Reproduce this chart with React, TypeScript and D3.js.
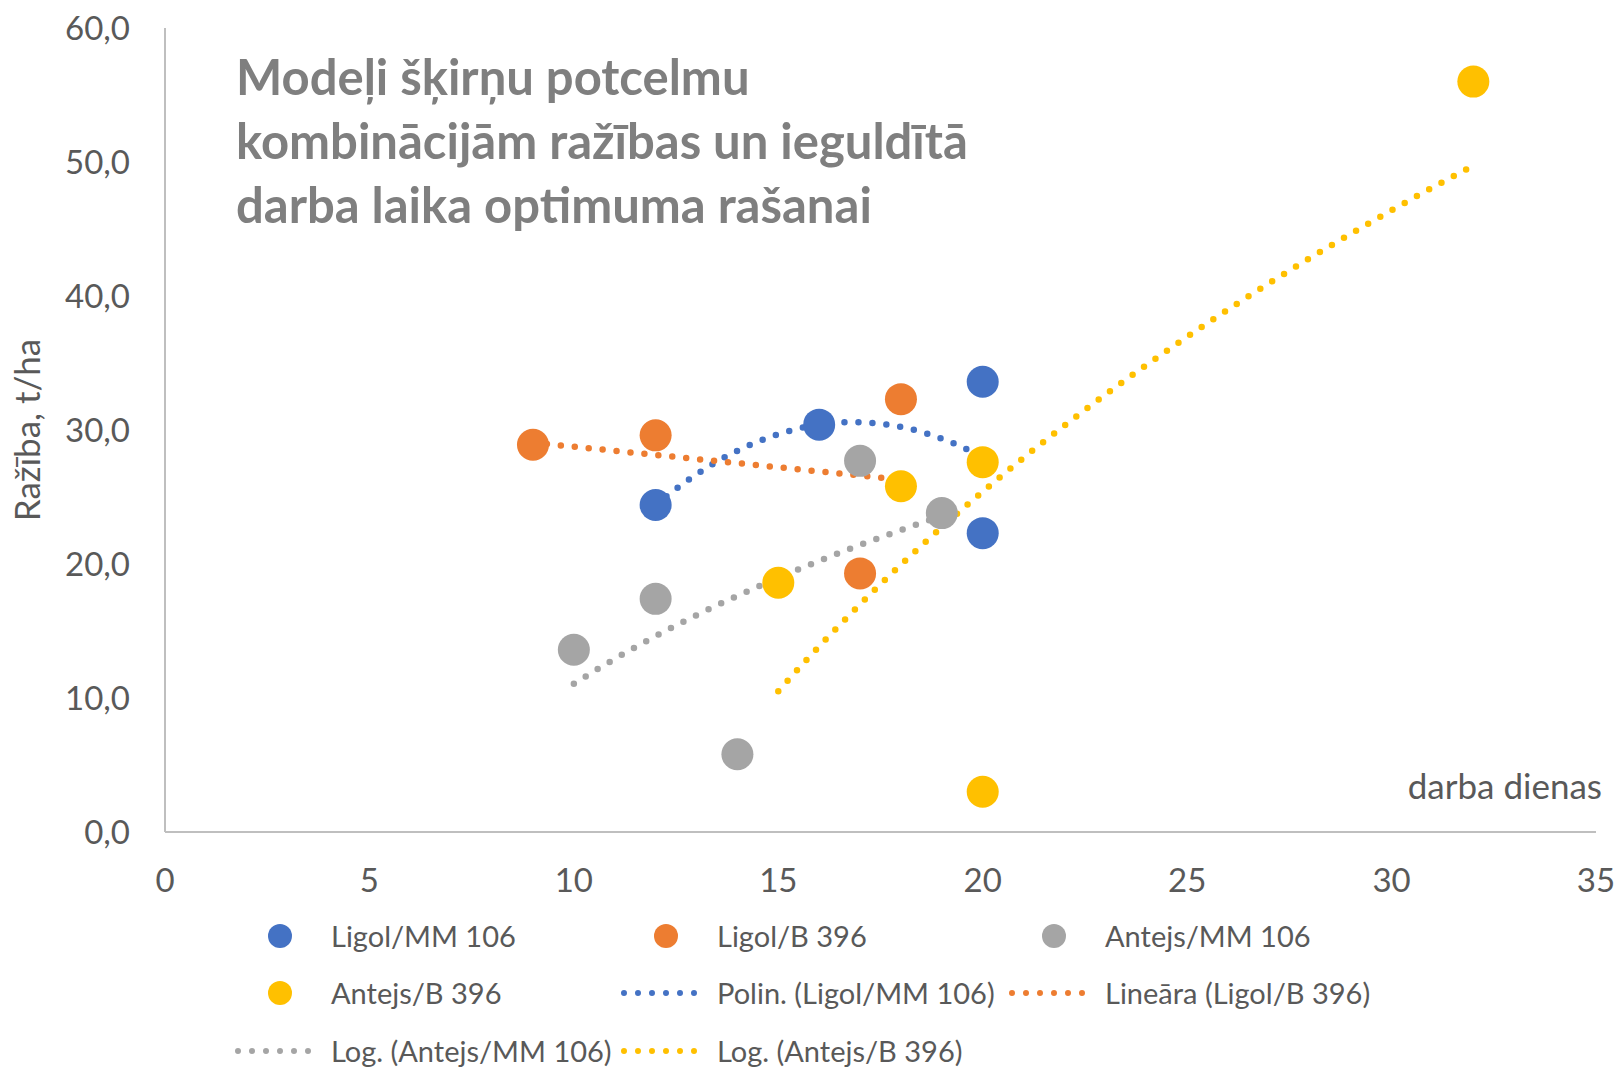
import React, { useRef, useEffect } from "react";
import * as d3 from "d3";

// darba dienas (x) / ražība t/ha (y) per combination
const ligolMM106X = [12, 16, 20, 20];
const ligolMM106Y = [24.4, 30.4, 33.6, 22.3];
const ligolB396X = [9, 12, 18, 17];
const ligolB396Y = [28.9, 29.6, 32.3, 19.3];
const antejsMM106X = [10, 12, 17, 19, 14];
const antejsMM106Y = [13.6, 17.4, 27.7, 23.8, 5.8];
const antejsB396X = [15, 18, 20, 20, 32];
const antejsB396Y = [18.6, 25.8, 27.6, 3.0, 56.0];

const yTicks = [0, 10, 20, 30, 40, 50, 60];
const xTicks = [0, 5, 10, 15, 20, 25, 30, 35];

const titleLines = [
  "Modeļi šķirņu potcelmu",
  "kombinācijām ražības un ieguldītā",
  "darba laika optimuma rašanai",
];

const COLORS = {
  blue: "#4472C4",
  orange: "#ED7D31",
  gray: "#A5A5A5",
  yellow: "#FFC000",
};

const FONT = "Lato, 'Open Sans', sans-serif";
const TEXT = "#595959";

type Fit = (x: number) => number;

function linearFit(xs: number[], ys: number[]): Fit {
  const mx = d3.mean(xs)!;
  const my = d3.mean(ys)!;
  const sxy = d3.sum(xs, (x, i) => (x - mx) * (ys[i] - my));
  const sxx = d3.sum(xs, (x) => (x - mx) ** 2);
  const b = sxy / sxx;
  const a = my - b * mx;
  return (x) => a + b * x;
}

function logFit(xs: number[], ys: number[]): Fit {
  const f = linearFit(xs.map(Math.log), ys);
  return (x) => f(Math.log(x));
}

function polyFit2(xs: number[], ys: number[]): Fit {
  // normal equations for y = c0 + c1 x + c2 x^2
  const s = (p: number) => d3.sum(xs, (x) => x ** p);
  const t = (p: number) => d3.sum(xs, (x, i) => x ** p * ys[i]);
  const m = [
    [s(0), s(1), s(2), t(0)],
    [s(1), s(2), s(3), t(1)],
    [s(2), s(3), s(4), t(2)],
  ];
  for (let i = 0; i < 3; i++) {
    for (let k = i + 1; k < 3; k++) {
      const f = m[k][i] / m[i][i];
      for (let j = i; j < 4; j++) m[k][j] -= f * m[i][j];
    }
  }
  const c = [0, 0, 0];
  for (let i = 2; i >= 0; i--) {
    let v = m[i][3];
    for (let j = i + 1; j < 3; j++) v -= m[i][j] * c[j];
    c[i] = v / m[i][i];
  }
  return (x) => c[0] + c[1] * x + c[2] * x * x;
}

const Chart: React.FC = () => {
  const ref = useRef<SVGSVGElement | null>(null);
  const width = 1621;
  const height = 1069;

  useEffect(() => {
    const svg = d3.select(ref.current);
    svg.selectAll("*").remove();

    const x = d3.scaleLinear().domain([0, 35]).range([165, 1596]);
    const y = d3.scaleLinear().domain([0, 60]).range([832, 28]);

    const series = [
      { name: "Ligol/MM 106", xs: ligolMM106X, ys: ligolMM106Y, color: COLORS.blue },
      { name: "Ligol/B 396", xs: ligolB396X, ys: ligolB396Y, color: COLORS.orange },
      { name: "Antejs/MM 106", xs: antejsMM106X, ys: antejsMM106Y, color: COLORS.gray },
      { name: "Antejs/B 396", xs: antejsB396X, ys: antejsB396Y, color: COLORS.yellow },
    ];

    const trends = [
      { name: "Polin. (Ligol/MM 106)", fit: polyFit2(ligolMM106X, ligolMM106Y), xs: ligolMM106X, color: COLORS.blue },
      { name: "Lineāra (Ligol/B 396)", fit: linearFit(ligolB396X, ligolB396Y), xs: ligolB396X, color: COLORS.orange },
      { name: "Log. (Antejs/MM 106)", fit: logFit(antejsMM106X, antejsMM106Y), xs: antejsMM106X, color: COLORS.gray },
      { name: "Log. (Antejs/B 396)", fit: logFit(antejsB396X, antejsB396Y), xs: antejsB396X, color: COLORS.yellow },
    ];

    // axes (lines only, no tick marks)
    svg.append("line")
      .attr("x1", x(0)).attr("x2", x(0))
      .attr("y1", y(0)).attr("y2", y(60))
      .attr("stroke", "#BFBFBF").attr("stroke-width", 2);
    svg.append("line")
      .attr("x1", x(0)).attr("x2", x(35))
      .attr("y1", y(0)).attr("y2", y(0))
      .attr("stroke", "#BFBFBF").attr("stroke-width", 2);

    svg.append("g")
      .selectAll("text")
      .data(yTicks)
      .enter()
      .append("text")
      .attr("x", 130)
      .attr("y", (d) => y(d))
      .attr("dy", "0.36em")
      .attr("text-anchor", "end")
      .attr("font-family", FONT)
      .attr("font-size", 33)
      .attr("fill", TEXT)
      .text((d) => d3.format(".1f")(d).replace(".", ","));

    svg.append("g")
      .selectAll("text")
      .data(xTicks)
      .enter()
      .append("text")
      .attr("x", (d) => x(d))
      .attr("y", 892)
      .attr("text-anchor", "middle")
      .attr("font-family", FONT)
      .attr("font-size", 33)
      .attr("fill", TEXT)
      .text((d) => String(d));

    // axis titles
    svg.append("text")
      .attr("transform", `translate(40, 430) rotate(-90)`)
      .attr("text-anchor", "middle")
      .attr("font-family", FONT)
      .attr("font-size", 35)
      .attr("fill", TEXT)
      .text("Ražība, t/ha");

    svg.append("text")
      .attr("x", 1602)
      .attr("y", 799)
      .attr("text-anchor", "end")
      .attr("font-family", FONT)
      .attr("font-size", 35)
      .attr("fill", TEXT)
      .text("darba dienas");

    // chart title inside plot
    svg.append("g")
      .selectAll("text")
      .data(titleLines)
      .enter()
      .append("text")
      .attr("x", 236)
      .attr("y", (_, i) => 95 + i * 64)
      .attr("font-family", FONT)
      .attr("font-weight", "bold")
      .attr("font-size", 49)
      .attr("fill", "#7F7F7F")
      .text((d) => d);

    // trendlines
    const line = d3.line<[number, number]>().x((d) => x(d[0])).y((d) => y(d[1]));
    trends.forEach((t) => {
      const [x0, x1] = d3.extent(t.xs) as [number, number];
      const pts: [number, number][] = d3.range(0, 101).map((i) => {
        const xv = x0 + ((x1 - x0) * i) / 100;
        return [xv, t.fit(xv)];
      });
      svg.append("path")
        .attr("d", line(pts)!)
        .attr("fill", "none")
        .attr("stroke", t.color)
        .attr("stroke-width", 6.5)
        .attr("stroke-linecap", "round")
        .attr("stroke-dasharray", "0 14");
    });

    // points
    series.forEach((s) => {
      svg.append("g")
        .selectAll("circle")
        .data(s.xs.map((xv, i) => [xv, s.ys[i]]))
        .enter()
        .append("circle")
        .attr("cx", (d) => x(d[0]))
        .attr("cy", (d) => y(d[1]))
        .attr("r", 16)
        .attr("fill", s.color);
    });

    // legend
    const colX = [234, 620, 1008];
    const rowY = [947, 1004, 1062];
    const items = [
      ...series.map((s) => ({ name: s.name, color: s.color, kind: "dot" })),
      ...trends.map((t) => ({ name: t.name, color: t.color, kind: "line" })),
    ];
    const lg = svg.append("g");
    items.forEach((it, i) => {
      const cx = colX[i % 3];
      const by = rowY[Math.floor(i / 3)];
      const midY = by - 11;
      if (it.kind === "dot") {
        lg.append("circle")
          .attr("cx", cx + 46)
          .attr("cy", midY)
          .attr("r", 12)
          .attr("fill", it.color);
      } else {
        lg.append("line")
          .attr("x1", cx + 4).attr("x2", cx + 86)
          .attr("y1", midY).attr("y2", midY)
          .attr("stroke", it.color)
          .attr("stroke-width", 6)
          .attr("stroke-linecap", "round")
          .attr("stroke-dasharray", "0 14");
      }
      lg.append("text")
        .attr("x", cx + 97)
        .attr("y", by)
        .attr("font-family", FONT)
        .attr("font-size", 29)
        .attr("fill", TEXT)
        .text(it.name);
    });
  }, []);

  return (
    <svg
      ref={ref}
      width={width}
      height={height}
      style={{ position: "absolute", left: 0, top: 0, background: "#fff" }}
    />
  );
};

export default function App() {
  return <Chart />;
}
